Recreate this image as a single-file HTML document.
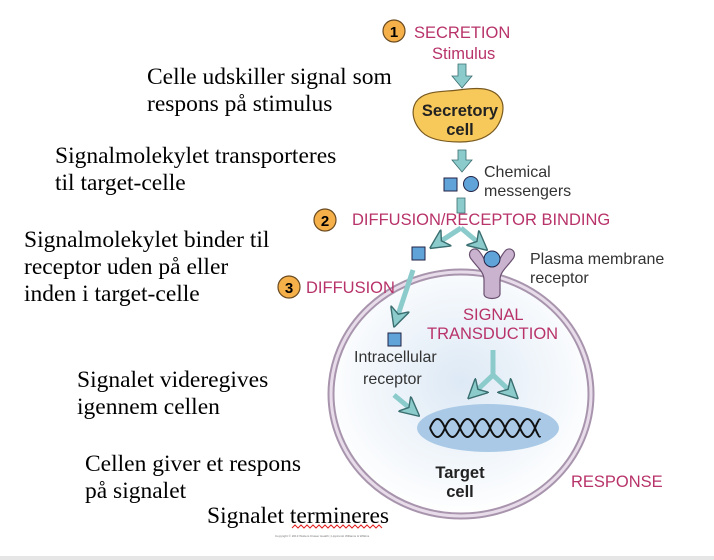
<!DOCTYPE html>
<html><head><meta charset="utf-8"><style>
html,body{margin:0;padding:0;background:#fff}
svg{display:block}
.s{font-family:"Liberation Serif",serif;font-size:23.5px;fill:#000}
.p{font-family:"Liberation Sans",sans-serif;font-size:16.5px;fill:#b8336a}
.g{font-family:"Liberation Sans",sans-serif;font-size:16px;fill:#333}
.b{font-family:"Liberation Sans",sans-serif;font-size:16.5px;font-weight:bold;fill:#222}
</style></head><body>
<svg width="714" height="560" viewBox="0 0 714 560" xmlns="http://www.w3.org/2000/svg">
<defs>
<radialGradient id="cg" cx="0.5" cy="0.45" r="0.55"><stop offset="0" stop-color="#dde9f5"/><stop offset="1" stop-color="#ffffff"/></radialGradient>
<marker id="ah" viewBox="0 0 10 10" refX="5" refY="5" markerWidth="20" markerHeight="20" markerUnits="userSpaceOnUse" orient="auto"><path d="M0,0 L10,5 L0,10 L3,5z" fill="#8ccbcc" stroke="#3a6e70" stroke-width="0.7"/></marker>
</defs>
<rect x="0" y="556" width="714" height="4" fill="#e6e6e6"/>
<text class="s" x="147" y="84">Celle udskiller signal som</text>
<text class="s" x="147" y="111">respons på stimulus</text>
<text class="s" x="55" y="163">Signalmolekylet transporteres</text>
<text class="s" x="55" y="190">til target-celle</text>
<text class="s" x="24" y="247">Signalmolekylet binder til</text>
<text class="s" x="24" y="274">receptor uden på eller</text>
<text class="s" x="24" y="301">inden i target-celle</text>
<text class="s" x="77" y="387">Signalet videregives</text>
<text class="s" x="77" y="414">igennem cellen</text>
<text class="s" x="85" y="471">Cellen giver et respons</text>
<text class="s" x="85" y="498">på signalet</text>
<text class="s" x="207" y="523">Signalet termineres</text>
<path d="M292,528 l3,-3 3,3 3,-3 3,3 3,-3 3,3 3,-3 3,3 3,-3 3,3 3,-3 3,3 3,-3 3,3 3,-3 3,3 3,-3 3,3 3,-3 3,3 3,-3 3,3 3,-3 3,3 3,-3 3,3 3,-3 3,3 3,-3 3,3" fill="none" stroke="#e02020" stroke-width="1"/>
<ellipse cx="461" cy="394" rx="130" ry="122" fill="url(#cg)" stroke="#a895ad" stroke-width="7"/>
<ellipse cx="461" cy="394" rx="130" ry="122" fill="none" stroke="#e8dcea" stroke-width="3"/>
<ellipse cx="488" cy="428" rx="71" ry="24" fill="#a9c9e6"/>
<path d="M430,428 c5,-12 10,-12 15,0 s10,12 15,0 s10,-12 15,0 s10,12 15,0 s10,-12 15,0 s10,12 15,0 s10,-12 15,0 s5,8 5,8" fill="none" stroke="#111" stroke-width="2"/>
<path d="M430,428 c5,12 10,12 15,0 s10,-12 15,0 s10,12 15,0 s10,-12 15,0 s10,12 15,0 s10,-12 15,0 s10,12 15,0 s5,-8 5,-8" fill="none" stroke="#111" stroke-width="2"/>
<g font-family="Liberation Sans,sans-serif" font-weight="bold" font-size="15" text-anchor="middle">
<circle cx="394" cy="31" r="11" fill="#f5b04a" stroke="#6a4a20" stroke-width="1.2"/><text x="394" y="37">1</text>
<circle cx="325" cy="220" r="11" fill="#f5b04a" stroke="#6a4a20" stroke-width="1.2"/><text x="325" y="226">2</text>
<circle cx="289" cy="287" r="11" fill="#f5b04a" stroke="#6a4a20" stroke-width="1.2"/><text x="289" y="293">3</text>
</g>
<text class="p" x="414" y="38">SECRETION</text>
<text class="p" x="432" y="59" font-size="15.5">Stimulus</text>
<g stroke="#3a6e70" stroke-width="0.8" fill="#8ccbcc">
<path d="M458,64 h8 v12 h6 l-10,12 l-10,-12 h6z"/>
<path d="M458,150 h8 v10 h6 l-10,12 l-10,-12 h6z"/>
<path d="M457,198 h8 v15 h-8z"/>
</g>
<path d="M416,102 c8,-12 28,-10 42,-12 c16,-2 34,-4 42,8 c6,8 2,22 -4,30 c-8,10 -20,14 -36,14 c-14,0 -30,-2 -38,-10 c-8,-8 -12,-20 -6,-30z" fill="#f7c95a" stroke="#7a5a20" stroke-width="1.2"/>
<text class="b" x="460" y="116" text-anchor="middle">Secretory</text>
<text class="b" x="460" y="135" text-anchor="middle">cell</text>
<rect x="444" y="178" width="13" height="13" fill="#5fa3d8" stroke="#224" stroke-width="1"/>
<circle cx="471" cy="184" r="7.5" fill="#5fa3d8" stroke="#224" stroke-width="1"/>
<text class="g" x="484" y="177">Chemical</text>
<text class="g" x="484" y="196">messengers</text>
<text class="p" x="352" y="225">DIFFUSION/RECEPTOR BINDING</text>
<path d="M461,228 L438,243" stroke="#8ccbcc" stroke-width="5" marker-end="url(#ah)" fill="none"/>
<path d="M461,228 L480,244" stroke="#8ccbcc" stroke-width="5" marker-end="url(#ah)" fill="none"/>
<rect x="412" y="247" width="13" height="13" fill="#5fa3d8" stroke="#224" stroke-width="1"/>
<path d="M472,260 c-6,-6 0,-14 6,-10 c6,6 8,16 14,16 c6,0 8,-10 14,-16 c6,-4 12,4 6,10 c-6,8 -12,12 -12,20 v14 c0,6 -16,6 -16,0 v-14 c0,-8 -6,-12 -12,-20z" fill="#c9b3cf" stroke="#6a5070" stroke-width="1.2"/>
<circle cx="492" cy="259" r="8" fill="#5fa3d8" stroke="#224" stroke-width="1"/>
<text class="g" x="530" y="264">Plasma membrane</text>
<text class="g" x="530" y="283">receptor</text>
<text class="p" x="306" y="293">DIFFUSION</text>
<path d="M413,270 L397,318" stroke="#8ccbcc" stroke-width="5" marker-end="url(#ah)" fill="none"/>
<rect x="388" y="333" width="13" height="13" fill="#5fa3d8" stroke="#224" stroke-width="1"/>
<text class="g" x="354" y="362">Intracellular</text>
<text class="g" x="363" y="384">receptor</text>
<path d="M394,395 L412,410" stroke="#8ccbcc" stroke-width="5" marker-end="url(#ah)" fill="none"/>
<text class="p" x="463" y="320">SIGNAL</text>
<text class="p" x="427" y="339">TRANSDUCTION</text>
<path d="M493,350 V375 L475,392" stroke="#8ccbcc" stroke-width="5" marker-end="url(#ah)" fill="none"/>
<path d="M493,375 L511,392" stroke="#8ccbcc" stroke-width="5" marker-end="url(#ah)" fill="none"/>
<text class="b" x="460" y="478" text-anchor="middle">Target</text>
<text class="b" x="460" y="497" text-anchor="middle">cell</text>
<text class="p" x="571" y="487">RESPONSE</text>
<text x="275" y="537" font-family="Liberation Sans,sans-serif" font-size="3" fill="#777">Copyright © 2013 Wolters Kluwer Health | Lippincott Williams &amp; Wilkins</text>
</svg>
</body></html>
